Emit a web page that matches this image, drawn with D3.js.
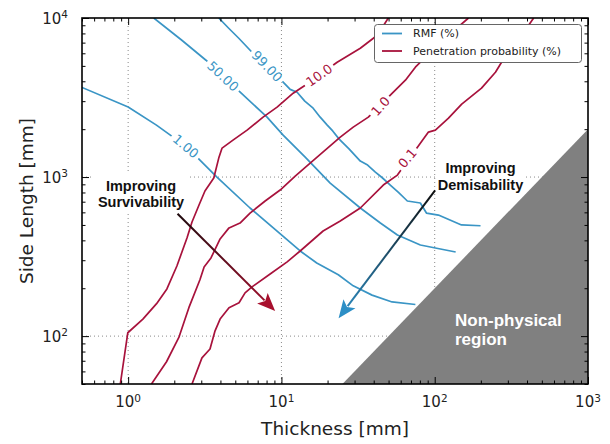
<!DOCTYPE html>
<html><head><meta charset="utf-8">
<script src="https://cdn.jsdelivr.net/npm/d3@7"></script>
<style>body{margin:0;background:#fff}</style>
</head><body>
<svg id="c" width="610" height="444"></svg>
<script>
// ---------------- data (thickness mm, side length mm) ----------------
const rmf1 = [[0.5,3660],[1.0,2760],[1.53,2121],[2.42,1543],[2.94,1279],[3.78,1004],[6.24,639],[13.25,343],[17.0,288],[23.5,243],[29.4,207],[39.0,181],[52.7,164],[74.8,158]];
const rmf50 = [[1.47,10000],[2.24,7244],[3.22,5426],[5.21,3517],[8.03,2390],[10.26,1835],[14.29,1335],[20.8,917],[32.7,639],[44.2,514],[57.1,432],[80.6,374],[101,358],[137,338]];
const rmf99 = [[3.90,10000],[4.53,8617],[5.27,7458],[6.43,6091],[10.26,3948],[11.4,3560],[12.66,3417],[14.2,3000],[16.1,2711],[17.9,2380],[19.9,2121],[21.6,1950],[23.8,1732],[27.5,1510],[32.7,1260],[36.5,1190],[41.0,1075],[45.5,990],[51.3,891],[58,800],[66.3,707],[80.6,687],[88.3,594],[105.7,577],[149.5,500],[199,494]];
const pen10 = [[0.889,50],[0.995,105],[1.248,128],[1.533,160],[1.79,198],[2.08,276],[2.42,414],[2.61,522],[2.90,667],[3.17,817],[3.62,986],[3.90,1316],[4.10,1521],[4.83,1708],[5.97,1972],[7.59,2380],[9.37,2750],[11.93,3368],[14.29,3780],[23.1,5270],[32.7,6452],[42.2,7787],[49.8,10000]];
const pen1 = [[1.42,50],[1.78,69],[2.15,99],[2.49,151],[2.94,226],[3.13,272],[3.47,310],[3.98,408],[4.55,479],[5.37,514],[6.24,594],[7.83,707],[9.81,829],[12.3,1015],[15.4,1224],[19.3,1477],[24.2,1783],[29.4,2060],[36.9,2380],[52.9,3368],[64.4,4064],[74.8,4904],[109,7040],[166,10000]];
const pen01 = [[2.61,50],[3.03,73],[3.42,83],[3.69,108],[3.98,128],[4.55,151],[5.29,162],[5.79,187],[6.43,204],[8.44,246],[10.9,293],[13.25,343],[18.7,458],[24.2,529],[32.7,639],[46.2,891],[57.1,1029],[91.0,1917],[101,1972],[123,2346],[150,2872],[202,3621],[249,4561],[273,5270],[337,7040],[410,9000],[442,10000]];
const rmfLevels = ["1.00","50.00","99.00"];
const penLevels = ["10.0","1.0","0.1"];
const rmfLabelAt = [[2.38,1565],[4.16,4305],[8.06,4976]];
const penLabelAt = [[17.6,4368],[44.2,2790],[66.3,1316]];
const nonPhysical = [[25,50],[1000,2000],[1000,50]];
const legendNames = ["RMF (%)","Penetration probability (%)"];
const xMajor = [1,10,100,1000], xExp = ["0","1","2","3"];
const yMajor = [100,1000,10000], yExp = ["2","3","4"];
const xGrid = [1,10,100], yGrid = [100,1000];
const survArrow = [[2.10,588],[9.10,144]];
const demArrow = [[100.6,825],[23.6,129.7]];

// ---------------- layout ----------------
const L=82,R=588,T=18,B=384;
const x=d3.scaleLog().domain([0.5,1000]).range([L,R]);
const y=d3.scaleLog().domain([50,10000]).range([B,T]);
const svg=d3.select('#c');
const FONT='"DejaVu Sans", sans-serif';
const BOLD='"Liberation Sans", Arial, sans-serif';
const BLUE='#3a95c5', RED='#a8123c';
const defs=svg.append('defs');
defs.append('clipPath').attr('id','clip').append('rect').attr('x',L).attr('y',T).attr('width',R-L).attr('height',B-T);

// grid
const grid=svg.append('g').attr('stroke','#8a8a8a').attr('stroke-width',1).attr('stroke-dasharray','1,3');
xGrid.forEach(v=>grid.append('line').attr('x1',x(v)).attr('x2',x(v)).attr('y1',T).attr('y2',B));
yGrid.forEach(v=>grid.append('line').attr('y1',y(v)).attr('y2',y(v)).attr('x1',L).attr('x2',R));

// curves
const line=d3.line().x(d=>x(d[0])).y(d=>y(d[1]));
const cg=svg.append('g').attr('clip-path','url(#clip)').attr('fill','none').attr('stroke-width',1.7).attr('stroke-linejoin','round');
[rmf1,rmf50,rmf99].forEach(c=>cg.append('path').attr('d',line(c)).attr('stroke',BLUE));
[pen10,pen1,pen01].forEach(c=>cg.append('path').attr('d',line(c)).attr('stroke',RED));

// contour labels
const rmfRot=[40,43,46], penRot=[-35,-48,-50];
function clabel(txt,at,rot,color){
  const g=svg.append('g').attr('transform',`translate(${x(at[0])},${y(at[1])}) rotate(${rot})`);
  const r=g.append('rect').attr('fill','#fff');
  const t=g.append('text').attr('text-anchor','middle').attr('dy','0.36em').attr('font-family',FONT).attr('font-size',13).attr('fill',color).text(txt);
  const w=t.node().getComputedTextLength();
  r.attr('x',-w/2-3).attr('y',-4).attr('width',w+6).attr('height',8);
}
rmfLevels.forEach((s,i)=>clabel(s,rmfLabelAt[i],rmfRot[i],BLUE));
penLevels.forEach((s,i)=>clabel(s,penLabelAt[i],penRot[i],RED));

// non-physical region
svg.append('path').attr('d',d3.line().x(d=>x(d[0])).y(d=>y(d[1]))(nonPhysical)+'Z').attr('fill','#808080').attr('clip-path','url(#clip)');
const np=svg.append('text').attr('font-family',BOLD).attr('font-weight','bold').attr('font-size',17).attr('fill','#fff');
np.append('tspan').attr('x',455).attr('y',326).text('Non-physical');
np.append('tspan').attr('x',455).attr('y',345).text('region');

// annotation boxes
function note(lines,cx,base,box){
  svg.append('rect').attr('x',box[0]).attr('y',box[1]).attr('width',box[2]).attr('height',box[3]).attr('fill','#fff');
  const t=svg.append('text').attr('font-family',BOLD).attr('font-weight','bold').attr('font-size',14.5).attr('text-anchor','middle').attr('fill','#111');
  lines.forEach((s,i)=>t.append('tspan').attr('x',cx).attr('y',base[i]).text(s));
}
note(['Improving','Survivability'],141,[191,207],[92,174,97,37]);
note(['Improving','Demisability'],480.5,[173,190],[436.5,156,89,38]);

// arrows
function arrow(pts,c0,c1,id){
  const x0=x(pts[0][0]),y0=y(pts[0][1]),x1=x(pts[1][0]),y1=y(pts[1][1]);
  const gr=defs.append('linearGradient').attr('id',id).attr('gradientUnits','userSpaceOnUse')
    .attr('x1',x0).attr('y1',y0).attr('x2',x1).attr('y2',y1);
  gr.append('stop').attr('offset',0).attr('stop-color',c0);
  gr.append('stop').attr('offset',1).attr('stop-color',c1);
  const a=Math.atan2(y1-y0,x1-x0),hl=18,hw=7.5;
  const bx=x1-hl*Math.cos(a),by=y1-hl*Math.sin(a);
  svg.append('line').attr('x1',x0).attr('y1',y0).attr('x2',bx+3*Math.cos(a)).attr('y2',by+3*Math.sin(a)).attr('stroke',`url(#${id})`).attr('stroke-width',2);
  svg.append('path').attr('d',`M${x1},${y1}L${bx+hw*Math.sin(a)},${by-hw*Math.cos(a)}L${bx+4*Math.cos(a)},${by+4*Math.sin(a)}L${bx-hw*Math.sin(a)},${by+hw*Math.cos(a)}Z`).attr('fill',c1);
}
arrow(survArrow,'#1e0a0e','#a8102e','g1');
arrow(demArrow,'#0d0d0d','#2d8fc6','g2');

// legend
const lg=svg.append('g');
lg.append('rect').attr('x',374.5).attr('y',24.5).attr('width',207).attr('height',38).attr('rx',3).attr('fill','#fff').attr('stroke','#555').attr('stroke-width',0.9);
[BLUE,RED].forEach((c,i)=>{
  const yy=33.5+i*17.5;
  lg.append('line').attr('x1',382).attr('x2',402).attr('y1',yy).attr('y2',yy).attr('stroke',c).attr('stroke-width',1.8);
  lg.append('text').attr('x',413).attr('y',yy).attr('dy','0.36em').attr('font-family',FONT).attr('font-size',11).attr('fill','#222').text(legendNames[i]);
});

// ticks (inward, all sides)
const xMinor=x.ticks().filter(v=>!xMajor.includes(v));
const yMinor=y.ticks().filter(v=>!yMajor.includes(v));
function ticks(axisFn,scale,vals,size,tr){
  const g=svg.append('g').attr('transform',tr).call(axisFn(scale).tickValues(vals).tickSize(-size).tickSizeOuter(0).tickFormat(()=>''));
  g.select('.domain').remove();
  g.selectAll('line').attr('stroke','#000').attr('stroke-width',1);
}
ticks(d3.axisBottom,x,xMajor,7,`translate(0,${B})`);
ticks(d3.axisBottom,x,xMinor,3.5,`translate(0,${B})`);
ticks(d3.axisTop,x,xMajor,7,`translate(0,${T})`);
ticks(d3.axisTop,x,xMinor,3.5,`translate(0,${T})`);
ticks(d3.axisLeft,y,yMajor,7,`translate(${L},0)`);
ticks(d3.axisLeft,y,yMinor,3.5,`translate(${L},0)`);
ticks(d3.axisRight,y,yMajor,7,`translate(${R},0)`);
ticks(d3.axisRight,y,yMinor,3.5,`translate(${R},0)`);

// frame
svg.append('rect').attr('x',L).attr('y',T).attr('width',R-L).attr('height',B-T).attr('fill','none').attr('stroke','#000').attr('stroke-width',1.6);

// tick labels
xMajor.forEach((v,i)=>{
  const t=svg.append('text').attr('x',x(v)).attr('y',407).attr('text-anchor','middle').attr('font-family',FONT).attr('font-size',15).attr('fill','#222');
  t.append('tspan').text('10');
  t.append('tspan').attr('dy','-0.5em').attr('font-size','0.7em').text(xExp[i]);
});
yMajor.forEach((v,i)=>{
  const t=svg.append('text').attr('x',68).attr('y',y(v)+5.5).attr('text-anchor','end').attr('font-family',FONT).attr('font-size',15).attr('fill','#222');
  t.append('tspan').text('10');
  t.append('tspan').attr('dy','-0.5em').attr('font-size','0.7em').text(yExp[i]);
});

// axis titles
svg.append('text').attr('x',(L+R)/2).attr('y',435).attr('text-anchor','middle').attr('font-family',FONT).attr('font-size',18.5).attr('fill','#222').text('Thickness [mm]');
svg.append('text').attr('transform',`translate(33,${(T+B)/2}) rotate(-90)`).attr('text-anchor','middle').attr('font-family',FONT).attr('font-size',18.5).attr('fill','#222').text('Side Length [mm]');
</script>
</body></html>
